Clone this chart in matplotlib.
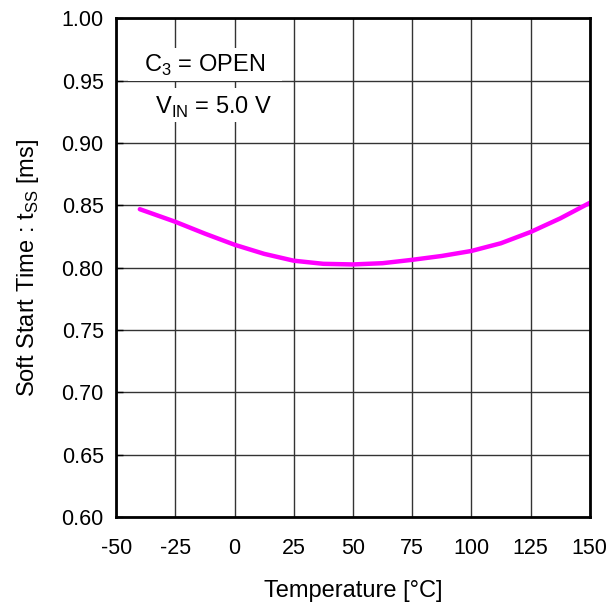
import matplotlib
matplotlib.use('Agg')
from matplotlib import pyplot as plt
from matplotlib.patches import Rectangle

plt.rcParams['font.family'] = ['Liberation Sans', 'DejaVu Sans']
plt.rcParams['mathtext.fontset'] = 'custom'
plt.rcParams['mathtext.rm'] = 'Liberation Sans'
plt.rcParams['font.size'] = 15.5

# soft start time vs temperature
temp = [-40, -25, -12.5, 0, 12.5, 25, 37.5, 50, 62.5, 75, 87.5, 100, 112.5, 125, 137.5, 150]
tss = [0.8468, 0.8367, 0.8272, 0.8183, 0.8110, 0.8055, 0.8030, 0.8025, 0.8035,
       0.8062, 0.8093, 0.8133, 0.8195, 0.8285, 0.8394, 0.8519]

xticks = [-50, -25, 0, 25, 50, 75, 100, 125, 150]
yticks = [0.60, 0.65, 0.70, 0.75, 0.80, 0.85, 0.90, 0.95, 1.00]

fig = plt.figure(figsize=(6.08, 6.05), dpi=100)
ax = fig.add_axes([0.191, 0.1455, 0.779, 0.8245])

ax.plot(temp, tss, color='#FF00FF', lw=3.2, solid_capstyle='round',
        solid_joinstyle='round', zorder=4)

ax.set_xlim(-50, 150)
ax.set_ylim(0.60, 1.00)
ax.set_xticks(xticks)
ax.set_yticks(yticks)
ax.set_xticklabels([str(t) for t in xticks])
ax.set_yticklabels([f'{v:.2f}' for v in yticks])
ax.grid(True, color='#333333', lw=1.0, zorder=1)
ax.set_axisbelow(True)
ax.tick_params(direction='in', length=5, width=1, pad=9, colors='black')
ax.tick_params(axis='x', length=0, pad=15)
for s in ax.spines.values():
    s.set_linewidth(2)
    s.set_zorder(5)

ax.set_xlabel('Temperature [°C]', fontsize=17, labelpad=15)
ax.set_ylabel(r'Soft Start Time : t$_\mathrm{SS}$ [ms]', fontsize=17, labelpad=15)

# white panels behind the condition notes
ax.add_patch(Rectangle((-44.9, 0.950), 64.9, 0.026, facecolor='white', edgecolor='none', zorder=2))
ax.add_patch(Rectangle((-44.9, 0.917), 64.9, 0.027, facecolor='white', edgecolor='none', zorder=2))
ax.text(-12.5, 0.9625, r'C$_\mathrm{3}$ = OPEN', fontsize=17, ha='center', va='center', zorder=3)
ax.text(-9, 0.9285, r'V$_\mathrm{IN}$ = 5.0 V', fontsize=17, ha='center', va='center', zorder=3)

fig.savefig('out.png', dpi=100)
